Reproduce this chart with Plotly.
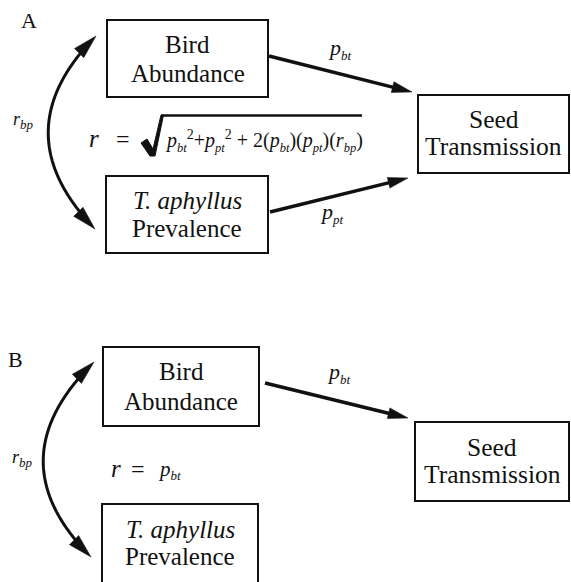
import numpy as np
import plotly.graph_objects as go

# ---------------- content ----------------
panel_labels = ["A", "B"]
node_lines = {
    "bird": ["Bird", "Abundance"],
    "plant": ["<i>T. aphyllus</i>", "Prevalence"],
    "seed": ["Seed", "Transmission"],
}


def sub(s, px):
    return f"<sub><span style='font-size:{px}px'><i>{s}</i></span></sub>"


def sup(s, px):
    return f"<sup><span style='font-size:{px}px'>{s}</span></sup>"


path_bt = "<i>p</i>" + sub("bt", 13)
path_pt = "<i>p</i>" + sub("pt", 13)
corr_bp = "<i>r</i>" + sub("bp", 13)
formula_A = ("<i>p</i>" + sub("bt", 12.5) + sup("2", 14) + "+<i>p</i>" + sub("pt", 12.5) + sup("2", 14)
             + " + 2(<i>p</i>" + sub("bt", 12.5) + ")(<i>p</i>" + sub("pt", 12.5) + ")(<i>r</i>"
             + sub("bp", 12.5) + ")")
formula_B = "<i>p</i>" + sub("bt", 13)

# ---------------- layout geometry (pixels) ----------------
W, H = 571, 582
FONT = "Liberation Serif, Times New Roman, DejaVu Serif, serif"
BLACK = "#111111"

shapes = []
ann = []


def text(x, baseline, s, size, anchor="center", shift=0.34):
    ann.append(dict(x=x, y=baseline - shift * size, text=s, showarrow=False,
                    xanchor=anchor, yanchor="middle",
                    font=dict(family=FONT, size=size, color=BLACK)))


def box(x0, y0, x1, y1, lines, baselines, size=25):
    shapes.append(dict(type="rect", x0=x0, y0=y0, x1=x1, y1=y1,
                       line=dict(color=BLACK, width=2), fillcolor="white", layer="below"))
    cx = (x0 + x1) / 2
    for s, b in zip(lines, baselines):
        text(cx, b, s, size)


def head(tip, direction, length, halfw):
    d = np.asarray(direction, float)
    u = d / np.linalg.norm(d)
    n = np.array([-u[1], u[0]])
    tip = np.asarray(tip, float)
    base = tip - u * length
    p1 = base + n * halfw
    p2 = base - n * halfw
    path = f"M{tip[0]:.2f},{tip[1]:.2f} L{p1[0]:.2f},{p1[1]:.2f} L{p2[0]:.2f},{p2[1]:.2f} Z"
    shapes.append(dict(type="path", path=path, fillcolor=BLACK,
                       line=dict(color=BLACK, width=0.5)))
    return base


def straight_arrow(start, tip, width=3.5, length=20, halfw=5.5):
    d = np.subtract(tip, start)
    base = head(tip, d, length, halfw)
    end = np.asarray(tip, float) - (np.asarray(tip, float) - base) * 0.8
    shapes.append(dict(type="line", x0=start[0], y0=start[1], x1=end[0], y1=end[1],
                       line=dict(color=BLACK, width=width)))


def curved_arrow(p0, p2, c, width=3, length=24, halfw=6.5):
    p0, p2, c = (np.asarray(v, float) for v in (p0, p2, c))
    head(p0, p0 - c, length, halfw)
    head(p2, p2 - c, length, halfw)
    L = np.linalg.norm(c - p0) * 2
    t0 = (length * 0.8) / L
    t = np.linspace(t0, 1 - t0, 80)
    pts = ((1 - t) ** 2)[:, None] * p0 + (2 * (1 - t) * t)[:, None] * c + (t ** 2)[:, None] * p2
    path = "M" + " L".join(f"{x:.2f},{y:.2f}" for x, y in pts)
    shapes.append(dict(type="path", path=path, line=dict(color=BLACK, width=width)))


def sqrt_sign(x0, ybar, ybot, xend):
    # bold radical sign + vinculum
    path = (f"M{x0:.1f},{ybot-13:.1f} L{x0+6:.1f},{ybot-17:.1f} L{x0+12:.1f},{ybot-7:.1f} "
            f"L{x0+20:.1f},{ybar:.1f} L{x0+22.5:.1f},{ybar:.1f} L{x0+14:.1f},{ybot:.1f} "
            f"L{x0+9:.1f},{ybot:.1f} Z")
    shapes.append(dict(type="path", path=path, fillcolor=BLACK, line=dict(color=BLACK, width=1)))
    shapes.append(dict(type="line", x0=x0 + 20.5, y0=ybar + 0.5, x1=xend, y1=ybar + 0.5,
                       line=dict(color=BLACK, width=2.5)))


# ---------------- Panel A ----------------
text(29, 28, panel_labels[0], 22)
box(107, 20, 268, 97, node_lines["bird"], [53, 82])
box(106, 176, 268, 253, node_lines["plant"], [209, 237])
box(418, 95, 569, 173, node_lines["seed"], [128, 155], size=25.5)
straight_arrow((269, 56), (412, 92))
straight_arrow((270, 212), (408, 178))
text(326, 56, path_bt, 22, anchor="left")
text(318, 220, path_pt, 22, anchor="left")
curved_arrow((96, 36), (95, 229), (1, 132))
text(11, 127, corr_bp, 18, anchor="left")
text(94, 147, "<i>r</i>", 25)
text(123, 147, "=", 24)
sqrt_sign(141, 115, 156, 362)
text(163, 148, formula_A, 20, anchor="left")

# ---------------- Panel B ----------------
text(15, 367, panel_labels[1], 22)
box(103, 347, 259, 426, node_lines["bird"], [380, 410])
shapes.append(dict(type="path", path="M102,586 L102,504 L258,504 L258,586",
                   line=dict(color=BLACK, width=2)))
for s, b in zip(node_lines["plant"], [538, 565]):
    text(180, b, s, 25)
box(415, 422, 569, 501, node_lines["seed"], [456, 483], size=25.5)
straight_arrow((265, 383), (408, 418))
text(325, 380, path_bt, 22, anchor="left")
curved_arrow((94, 362), (91, 557), (-6, 460))
text(10, 465, corr_bp, 18, anchor="left")
text(116, 477, "<i>r</i>", 25)
text(138, 477, "=", 24)
text(156, 477, formula_B, 21, anchor="left")

fig = go.Figure()
fig.update_layout(
    width=W, height=H, margin=dict(l=0, r=0, t=0, b=0),
    paper_bgcolor="white", plot_bgcolor="white",
    font=dict(family=FONT, color=BLACK),
    xaxis=dict(range=[0, W], visible=False, fixedrange=True),
    yaxis=dict(range=[H, 0], visible=False, fixedrange=True),
    shapes=shapes, annotations=ann, showlegend=False,
)
fig.write_html("out.html", config={"displayModeBar": False},
               post_script="document.body.style.margin='0';document.body.style.overflow='hidden';")
